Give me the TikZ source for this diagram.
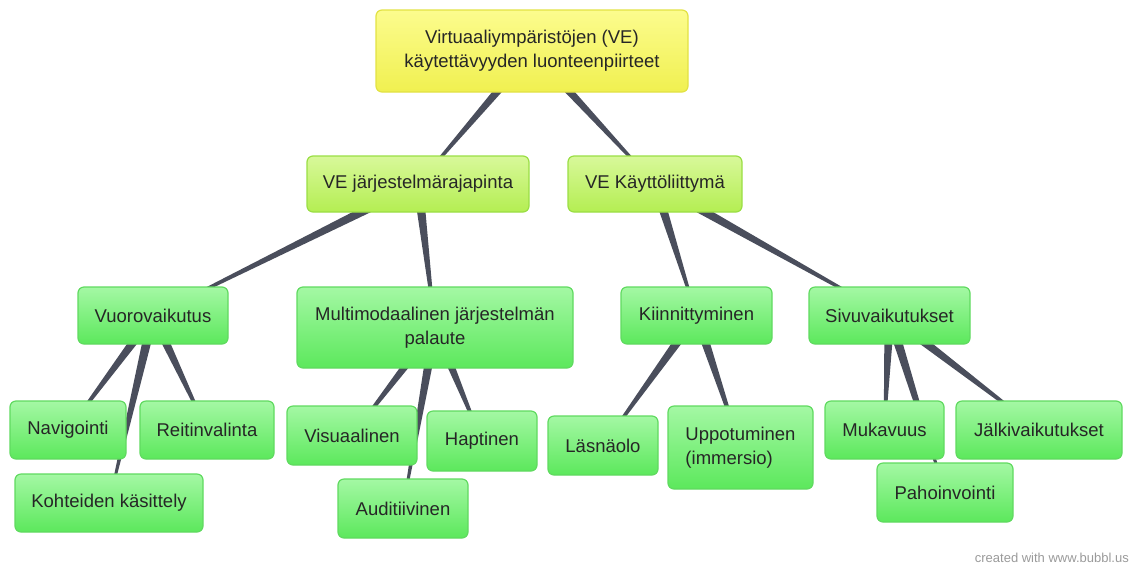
\documentclass[tikz,border=0pt]{standalone}
\usepackage{fontspec}
\setmainfont{Liberation Sans}
\usepackage{tikz}
\usetikzlibrary{calc,backgrounds}
\definecolor{bbyellow}{HTML}{F0F050}
\definecolor{bbyelltop}{HTML}{FCFC8E}
\definecolor{bbyelline}{HTML}{E2E244}
\definecolor{bblime}{HTML}{B4EE52}
\definecolor{bblimetop}{HTML}{D8F89A}
\definecolor{bblimeline}{HTML}{9ADE44}
\definecolor{bbgreen}{HTML}{5CE85C}
\definecolor{bbgreentop}{HTML}{A4F8A4}
\definecolor{bbgreenline}{HTML}{60DA60}
\definecolor{bblinkc}{HTML}{4A4E5C}
\definecolor{bbgray}{HTML}{9A9A9A}
\tikzset{
  bubble/.style ={rounded corners=6pt, line width=1.2pt, inner sep=2pt, align=center,
                  font=\fontsize{18.5}{24}\selectfont, text=black!85},
  rootb/.style  ={bubble, top color=bbyelltop, bottom color=bbyellow, draw=bbyelline},
  mainb/.style  ={bubble, top color=bblimetop, bottom color=bblime, draw=bblimeline},
  leafb/.style  ={bubble, top color=bbgreentop, bottom color=bbgreen, draw=bbgreenline},
  credit/.style ={font=\fontsize{13}{15}\selectfont, text=bbgray, anchor=east, inner sep=0pt},
}
% tapered link, thick end at the parent
\newcommand{\treelink}[2]{%
  \fill[bblinkc] ($(#1)!5pt!90:(#2)$) -- ($(#2)!0.8pt!-90:(#1)$)
     -- ($(#2)!0.8pt!90:(#1)$) -- ($(#1)!5pt!-90:(#2)$) -- cycle;}

\begin{document}
\begin{tikzpicture}[x=1pt,y=-1pt]
    \useasboundingbox (0,0) rectangle (1129,566);
    % root and main branches
    \node[rootb, minimum width=312pt, minimum height=82pt] (root) at (532,51)
        {Virtuaaliympäristöjen (VE)\\käytettävyyden luonteenpiirteet};
    \node[mainb, minimum width=222pt, minimum height=56pt] (sys) at (418,184) {VE järjestelmärajapinta};
    \node[mainb, minimum width=174pt, minimum height=56pt] (ui) at (655,184) {VE Käyttöliittymä};
    % second level
    \node[leafb, minimum width=150pt, minimum height=57pt] (vuoro) at (153,315.5) {Vuorovaikutus};
    \node[leafb, minimum width=276pt, minimum height=81pt] (multi) at (435,327.5)
        {Multimodaalinen järjestelmän\\palaute};
    \node[leafb, minimum width=151pt, minimum height=57pt] (kiinn) at (696.5,315.5) {Kiinnittyminen};
    \node[leafb, minimum width=161pt, minimum height=57pt] (sivu) at (889.5,315.5) {Sivuvaikutukset};
    % leaves
    \node[leafb, minimum width=116pt, minimum height=58pt] (navi) at (68,430) {Navigointi};
    \node[leafb, minimum width=134pt, minimum height=58pt] (reitti) at (207,430) {Reitinvalinta};
    \node[leafb, minimum width=188pt, minimum height=58pt] (kohde) at (109,503) {Kohteiden käsittely};
    \node[leafb, minimum width=130pt, minimum height=59pt] (visu) at (352,435.5) {Visuaalinen};
    \node[leafb, minimum width=110pt, minimum height=60pt] (hapt) at (482,441) {Haptinen};
    \node[leafb, minimum width=130pt, minimum height=59pt] (audit) at (403,508.5) {Auditiivinen};
    \node[leafb, minimum width=110pt, minimum height=59pt] (lasna) at (603,445.5) {Läsnäolo};
    \node[leafb, minimum width=145pt, minimum height=83pt, align=left] (uppo) at (740.5,447.5)
        {Uppotuminen\\(immersio)};
    \node[leafb, minimum width=119pt, minimum height=58pt] (muka) at (884.5,430) {Mukavuus};
    \node[leafb, minimum width=166pt, minimum height=58pt] (jalki) at (1039,430) {Jälkivaikutukset};
    \node[leafb, minimum width=136pt, minimum height=59pt] (paho) at (945,492.5) {Pahoinvointi};
    \node[credit] (credit) at (1129,558) {created with www.bubbl.us};
    % links behind the bubbles
    \begin{scope}[on background layer]
        \treelink{root}{sys} \treelink{root}{ui}
        \treelink{sys}{vuoro} \treelink{sys}{multi}
        \treelink{ui}{kiinn} \treelink{ui}{sivu}
        \foreach \c in {navi,kohde,reitti} \treelink{vuoro}{\c};
        \foreach \c in {visu,audit,hapt} \treelink{multi}{\c};
        \foreach \c in {lasna,uppo} \treelink{kiinn}{\c};
        \foreach \c in {muka,paho,jalki} \treelink{sivu}{\c};
    \end{scope}
\end{tikzpicture}
\end{document}
